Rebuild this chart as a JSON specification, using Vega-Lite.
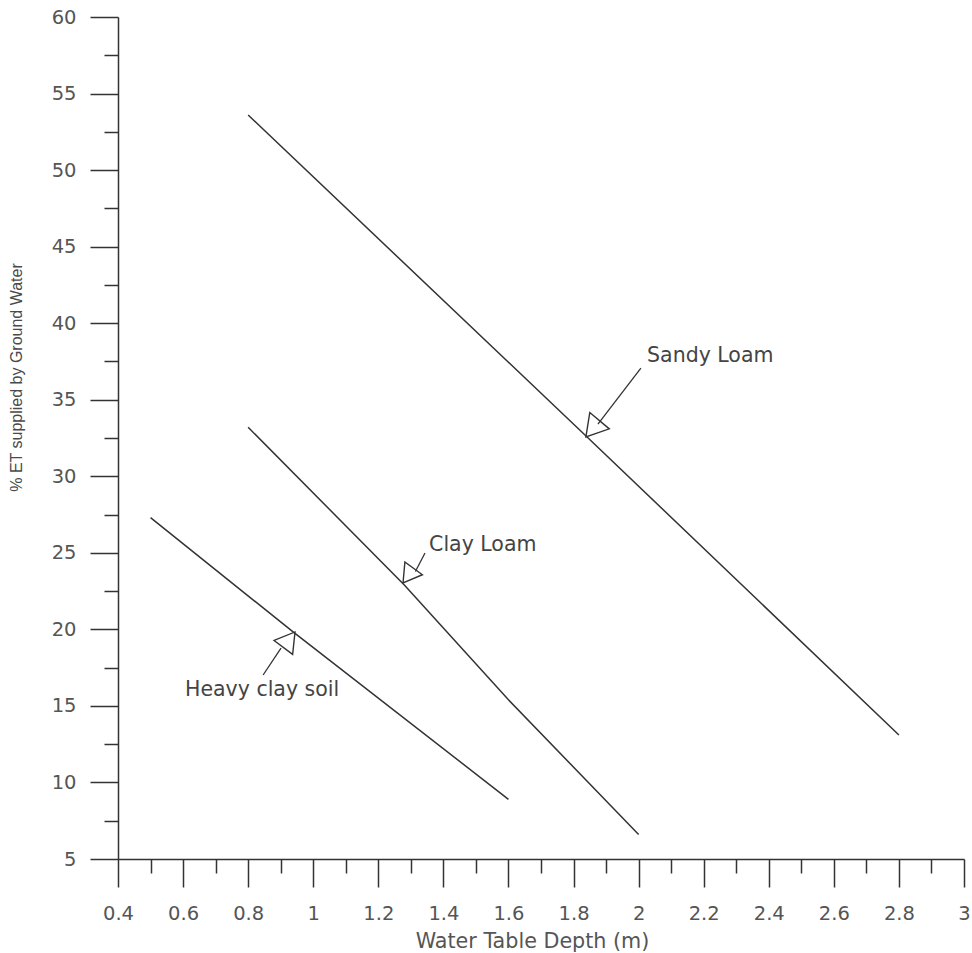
{
  "$schema": "https://vega.github.io/schema/vega-lite/v6.json",
  "width": 846,
  "height": 842,
  "autosize": {"type": "none"},
  "padding": {"left": 118, "top": 17, "right": 8, "bottom": 94},
  "background": "white",
  "config": {
    "view": {"stroke": null},
    "axis": {
      "grid": false,
      "domainColor": "#333333",
      "domainWidth": 1.5,
      "tickColor": "#333333",
      "tickWidth": 1.5,
      "labelFont": "DejaVu Sans",
      "labelFontSize": 19.5,
      "labelColor": "#555555",
      "labelOverlap": false,
      "labelFlush": false,
      "titleColor": "#555555",
      "titleFontWeight": "normal"
    }
  },
  "resolve": {"axis": {"x": "independent", "y": "independent"}},
  "datasets": {
    "curves": [
      {"soil": "Sandy Loam", "depth": 0.8, "pct": 53.6},
      {"soil": "Sandy Loam", "depth": 1.84, "pct": 32.6},
      {"soil": "Sandy Loam", "depth": 2.8, "pct": 13.1},
      {"soil": "Clay Loam", "depth": 0.8, "pct": 33.2},
      {"soil": "Clay Loam", "depth": 1.28, "pct": 22.9},
      {"soil": "Clay Loam", "depth": 1.6, "pct": 15.4},
      {"soil": "Clay Loam", "depth": 2.0, "pct": 6.6},
      {"soil": "Heavy clay soil", "depth": 0.5, "pct": 27.3},
      {"soil": "Heavy clay soil", "depth": 0.94, "pct": 19.8},
      {"soil": "Heavy clay soil", "depth": 1.6, "pct": 8.9}
    ],
    "notes": [
      {"label": "Sandy Loam", "tx": 2.026, "ty": 37.86, "x1": 2.007, "y1": 37.07, "x2": 1.875, "y2": 33.41, "hx": 1.838, "hy": 32.57},
      {"label": "Clay Loam", "tx": 1.356, "ty": 25.48, "x1": 1.3435, "y1": 24.99, "x2": 1.314, "y2": 23.78, "hx": 1.276, "hy": 23.03},
      {"label": "Heavy clay soil", "tx": 0.606, "ty": 16.04, "x1": 0.846, "y1": 17.02, "x2": 0.901, "y2": 18.78, "hx": 0.944, "hy": 19.83}
    ]
  },
  "layer": [
    {
      "data": {"name": "curves"},
      "mark": {"type": "line", "color": "#333333", "strokeWidth": 1.5},
      "encoding": {
        "detail": {"field": "soil"},
        "x": {
          "field": "depth",
          "type": "quantitative",
          "scale": {"domain": [0.4, 3], "nice": false, "zero": false},
          "axis": {
            "orient": "bottom",
            "title": "Water Table Depth (m)",
            "values": [0.4, 0.6, 0.8, 1, 1.2, 1.4, 1.6, 1.8, 2, 2.2, 2.4, 2.6, 2.8, 3],
            "format": "~g",
            "tickSize": 28,
            "labelPadding": 17,
            "titleFont": "DejaVu Sans",
            "titleFontSize": 20.7,
            "titleX": 414,
            "titleY": 88,
            "titleAlign": "center",
            "titleBaseline": "alphabetic"
          }
        },
        "y": {
          "field": "pct",
          "type": "quantitative",
          "scale": {"domain": [5, 60], "nice": false, "zero": false},
          "axis": {
            "orient": "left",
            "title": "% ET supplied by Ground Water",
            "values": [5, 10, 15, 20, 25, 30, 35, 40, 45, 50, 55, 60],
            "format": "~g",
            "tickSize": 28,
            "labelPadding": 14,
            "titleFont": "Liberation Sans",
            "titleFontSize": 16,
            "titleColor": "#4a4a4a",
            "titleAngle": 270,
            "titleX": -102,
            "titleY": 360,
            "titleAlign": "center",
            "titleBaseline": "middle"
          }
        }
      }
    },
    {
      "data": {"name": "notes"},
      "mark": {"type": "rule", "color": "#333333", "strokeWidth": 1.3},
      "encoding": {
        "x": {
          "field": "x1",
          "type": "quantitative",
          "axis": {
            "orient": "bottom",
            "title": null,
            "values": [0.5, 0.7, 0.9, 1.1, 1.3, 1.5, 1.7, 1.9, 2.1, 2.3, 2.5, 2.7, 2.9],
            "tickSize": 14,
            "labels": false,
            "domain": false
          }
        },
        "y": {
          "field": "y1",
          "type": "quantitative",
          "axis": {
            "orient": "left",
            "title": null,
            "values": [7.5, 12.5, 17.5, 22.5, 27.5, 32.5, 37.5, 42.5, 47.5, 52.5, 57.5],
            "tickSize": 14,
            "labels": false,
            "domain": false
          }
        },
        "x2": {"field": "x2"},
        "y2": {"field": "y2"}
      }
    },
    {
      "data": {"name": "notes"},
      "mark": {"type": "text", "font": "DejaVu Sans", "fontSize": 20.5, "color": "#444444", "align": "left", "baseline": "middle"},
      "encoding": {
        "x": {"field": "tx", "type": "quantitative", "axis": null},
        "y": {"field": "ty", "type": "quantitative", "axis": null},
        "text": {"field": "label"}
      }
    },
    {
      "data": {"name": "notes"},
      "transform": [{"filter": "datum.label == 'Sandy Loam'"}],
      "mark": {"type": "point", "shape": "M0,0L0.6,1L-0.6,1Z", "filled": false, "stroke": "#333333", "strokeWidth": 1.4, "size": 1800, "angle": 220, "opacity": 1},
      "encoding": {
        "x": {"field": "hx", "type": "quantitative", "axis": null},
        "y": {"field": "hy", "type": "quantitative", "axis": null}
      }
    },
    {
      "data": {"name": "notes"},
      "transform": [{"filter": "datum.label == 'Clay Loam'"}],
      "mark": {"type": "point", "shape": "M0,0L0.6,1L-0.6,1Z", "filled": false, "stroke": "#333333", "strokeWidth": 1.4, "size": 1300, "angle": 216, "opacity": 1},
      "encoding": {
        "x": {"field": "hx", "type": "quantitative", "axis": null},
        "y": {"field": "hy", "type": "quantitative", "axis": null}
      }
    },
    {
      "data": {"name": "notes"},
      "transform": [{"filter": "datum.label == 'Heavy clay soil'"}],
      "mark": {"type": "point", "shape": "M0,0L0.6,1L-0.6,1Z", "filled": false, "stroke": "#333333", "strokeWidth": 1.4, "size": 1500, "angle": 37, "opacity": 1},
      "encoding": {
        "x": {"field": "hx", "type": "quantitative", "axis": null},
        "y": {"field": "hy", "type": "quantitative", "axis": null}
      }
    }
  ]
}
